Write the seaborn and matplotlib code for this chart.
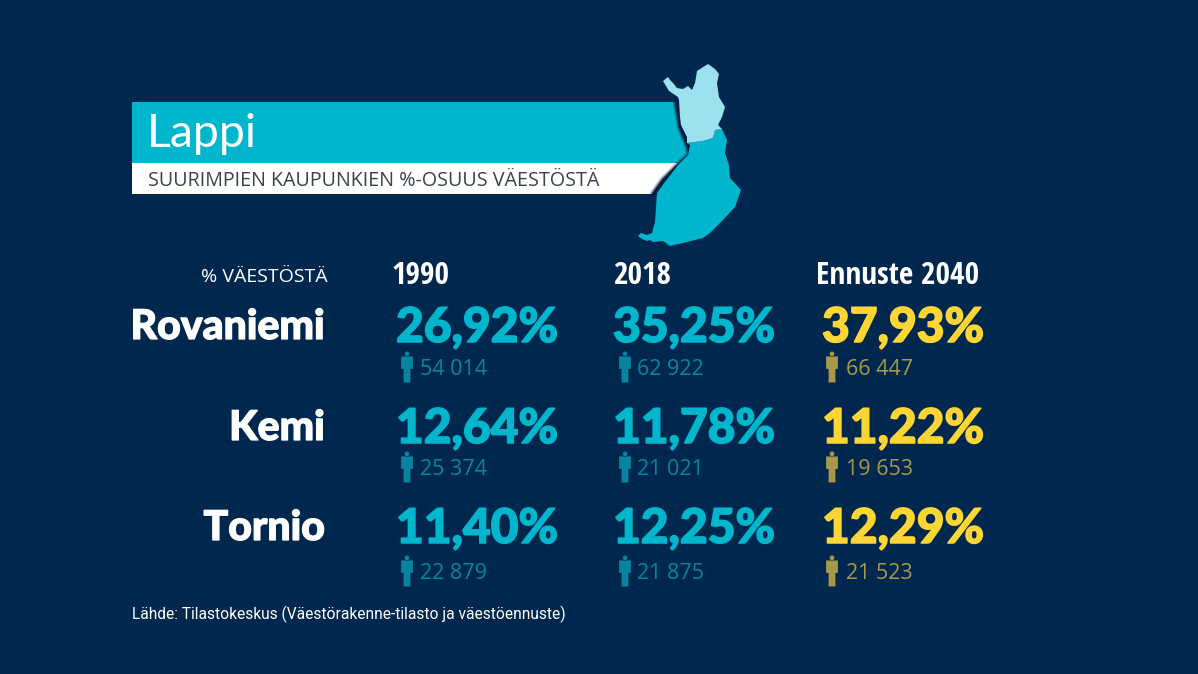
import matplotlib
matplotlib.use("Agg")
import matplotlib.pyplot as plt
import matplotlib.patheffects as pe
from matplotlib.patches import Polygon
from matplotlib.path import Path
import pandas as pd
import seaborn as sns

# data
KAUPUNGIT = ["Rovaniemi", "Kemi", "Tornio"]
SARAKKEET = ["1990", "2018", "Ennuste 2040"]
OSUUS_1990 = ["26,92%", "12,64%", "11,40%"]
OSUUS_2018 = ["35,25%", "11,78%", "12,25%"]
OSUUS_2040 = ["37,93%", "11,22%", "12,29%"]
ASUKKAAT_1990 = ["54 014", "25 374", "22 879"]
ASUKKAAT_2018 = ["62 922", "21 021", "21 875"]
ASUKKAAT_2040 = ["66 447", "19 653", "21 523"]
OTSIKKO = "Lappi"
ALAOTSIKKO = "SUURIMPIEN KAUPUNKIEN %-OSUUS VÄESTÖSTÄ"
YKSIKKO = "% VÄESTÖSTÄ"
LAHDE = "Lähde: Tilastokeskus (Väestörakenne-tilasto ja väestöennuste)"

# layout in pixels
TAUSTA = "#00284f"
TURKOOSI = "#00b6cc"
VAALEA = "#9be1ee"
KELTAINEN = "#fdd534"
TURKOOSI_HIMMEA = "#0785a0"
KELTAINEN_HIMMEA = "#a8994a"

RIVI_OSUUS_Y = [328, 429, 529]
RIVI_KUVA_Y = [367, 467, 571]
OTSAKE_X = [392, 613, 816]
OSUUS_X = [396, 613, 822]
KUVA_X = [407, 625, 832]
LUKU_X = [420, 637, 846]

sns.set_theme(style="white")
plt.rcParams["font.family"] = ["Lato", "Open Sans", "DejaVu Sans"]

fig = plt.figure(figsize=(11.98, 6.74), dpi=100, facecolor=TAUSTA)
ax = fig.add_axes([0, 0, 1, 1])
ax.set_xlim(0, 1198)
ax.set_ylim(674, 0)
ax.set_facecolor(TAUSTA)
ax.axis("off")

# title band, right edge follows the coast
ax.add_patch(Polygon([(132, 102), (676, 102), (680, 127), (688, 147), (688, 155), (680, 163), (132, 163)],
                     closed=True, fc=TURKOOSI, ec="none", zorder=2))
ax.add_patch(Polygon([(132, 163), (679, 163), (663, 180), (653, 194), (132, 194)],
                     closed=True, fc="white", ec="none", zorder=2))
# soft shadow along the coast
for lw, alpha in [(5, 0.25), (3, 0.5), (1.5, 0.9)]:
    ax.plot([676, 680, 688, 689, 680, 663, 653], [102, 127, 147, 155, 163, 180, 194],
            color="#001c3a", lw=lw, alpha=alpha, zorder=2.5)

# map of Finland
LAPPI_REUNA = [(663, 81), (668, 77), (670, 80), (673, 83), (677, 88), (683, 89), (688, 86), (692, 90),
               (695, 83), (697, 71), (708, 64), (715, 69), (719, 74), (717, 83), (719, 97), (725, 107),
               (722, 117), (718, 125), (722, 129), (715, 130), (713, 138), (703, 141), (687, 143),
               (687, 137), (681, 125), (680, 117), (679, 100), (678, 97), (669, 91)]
ETELA_REUNA = [(687, 143), (703, 141), (713, 138), (715, 130), (722, 129), (727, 140), (725, 153),
               (729, 165), (730, 178), (741, 190), (735, 207), (723, 220), (710, 233), (703, 238),
               (683, 243), (670, 246), (663, 241), (653, 242), (650, 240), (647, 241), (642, 239),
               (638, 236), (641, 233), (647, 235), (652, 233), (655, 222), (657, 193), (665, 182),
               (678, 165), (688, 155), (690, 145)]
ax.add_patch(Polygon(ETELA_REUNA, closed=True, fc=TURKOOSI, ec="none", zorder=3))
ax.add_patch(Polygon(LAPPI_REUNA, closed=True, fc=VAALEA, ec="none", zorder=3))

ax.text(147, 134, OTSIKKO, color="white", fontsize=33.5, va="center", ha="left",
        family=["Lato"], zorder=4)
ax.text(148, 180.5, ALAOTSIKKO, color="#39424e", fontsize=14.25, va="center", ha="left",
        family=["Open Sans"], zorder=4)

ax.text(328, 277, YKSIKKO, color="white", fontsize=14, va="center", ha="right", family=["Open Sans"])
for x, nimi in zip(OTSAKE_X, SARAKKEET):
    ax.text(x, 276, nimi, color="white", fontsize=22.5, fontweight="bold", va="center", ha="left",
            family=["Open Sans Condensed", "Open Sans"])

lihavoi = [pe.withStroke(linewidth=0.9, foreground="white")]
for y, kaupunki in zip(RIVI_OSUUS_Y, KAUPUNGIT):
    ax.text(325, y - 1, kaupunki, color="white", fontsize=29.5, fontweight="black", va="center", ha="right",
            path_effects=lihavoi)

OSUUDET = [OSUUS_1990, OSUUS_2018, OSUUS_2040]
ASUKKAAT = [ASUKKAAT_1990, ASUKKAAT_2018, ASUKKAAT_2040]
VARIT = [TURKOOSI, TURKOOSI, KELTAINEN]
HIMMEAT = [TURKOOSI_HIMMEA, TURKOOSI_HIMMEA, KELTAINEN_HIMMEA]

for sarake in range(3):
    for rivi in range(3):
        ax.text(OSUUS_X[sarake], RIVI_OSUUS_Y[rivi], OSUUDET[sarake][rivi], color=VARIT[sarake],
                fontsize=34.5, fontweight="black", va="center", ha="left",
                path_effects=[pe.withStroke(linewidth=1.1, foreground=VARIT[sarake])])
        ax.text(LUKU_X[sarake], RIVI_KUVA_Y[rivi] + 2.5, ASUKKAAT[sarake][rivi], color=HIMMEAT[sarake],
                fontsize=15.5, va="center", ha="left", family=["Open Sans"])

# person icons as one custom marker, y points up in marker space
vartalo = Path(
    [(-0.38, 0.68), (0.38, 0.68), (0.38, -0.12), (0.22, -0.12), (0.22, -1.0), (-0.22, -1.0),
     (-0.22, -0.12), (-0.38, -0.12), (-0.38, 0.68)],
    [1, 2, 2, 2, 2, 2, 2, 2, 79],
)
IHMINEN = Path.make_compound_path(Path.circle((0, 0.85), 0.15), vartalo)
kuvakkeet = pd.DataFrame(
    [{"x": KUVA_X[s], "y": RIVI_KUVA_Y[r], "vari": HIMMEAT[s]} for s in range(3) for r in range(3)]
)
sns.scatterplot(data=kuvakkeet, x="x", y="y", hue="vari", palette={c: c for c in HIMMEAT},
                marker=IHMINEN, s=498, linewidth=0, legend=False, ax=ax, zorder=4)
ax.set_xlim(0, 1198)
ax.set_ylim(674, 0)
ax.axis("off")

ax.text(132, 614, LAHDE, color="white", fontsize=11.2, va="center", ha="left", family=["Roboto"])

fig.savefig("out.png", dpi=100, facecolor=TAUSTA)
